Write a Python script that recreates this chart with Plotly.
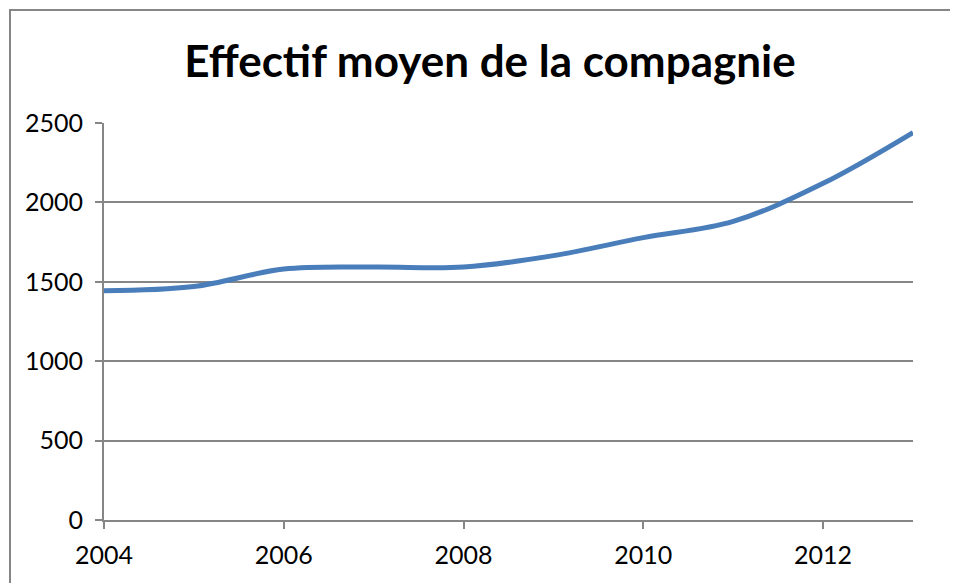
import plotly.graph_objects as go

years = [2004, 2005, 2006, 2007, 2008, 2009, 2010, 2011, 2012, 2013]
effectif = [1443, 1470, 1580, 1593, 1593, 1665, 1778, 1880, 2120, 2440]
x_ticks = [2004, 2006, 2008, 2010, 2012]
y_ticks = [0, 500, 1000, 1500, 2000, 2500]
title_text = "Effectif moyen de la compagnie"

OFF = 8  # page body margin
W, H = 958, 583
L, T = 104 - OFF, 123 - OFF
pw, ph = 809, 397
R, B = W - L - pw, H - T - ph

fig = go.Figure()
fig.add_trace(go.Scatter(
    x=years, y=effectif, mode="lines",
    line=dict(color="#4a7ebb", width=5, shape="spline", smoothing=1.0),
    hoverinfo="x+y", showlegend=False,
))

grey = "#868686"
font = "Lato, Open Sans, sans-serif"
fig.update_layout(
    width=W, height=H,
    margin=dict(l=L, r=R, t=T, b=B),
    paper_bgcolor="white", plot_bgcolor="white",
    font=dict(family=font, color="black", size=25),
    title=dict(text="<b>" + title_text + "</b>", x=(490 - OFF) / W, xanchor="center",
               y=1 - (62 - OFF) / H, yanchor="middle", xref="container", yref="container",
               font=dict(family=font, size=44, color="black")),
    xaxis=dict(range=[2004, 2013], tickvals=x_ticks, showgrid=False,
               showline=True, linecolor=grey, linewidth=2, ticks="outside",
               tickcolor=grey, ticklen=7, tickwidth=2, zeroline=False,
               ticklabelstandoff=5, tickfont=dict(size=25)),
    yaxis=dict(range=[0, 2500], tickvals=y_ticks, showgrid=True, gridcolor=grey,
               gridwidth=1.5, showline=True, linecolor=grey, linewidth=2,
               ticks="outside", tickcolor=grey, ticklen=7, tickwidth=2,
               zeroline=False, ticklabelstandoff=7, tickfont=dict(size=25)),
)

# chart-area border (left and top edges visible)
fig.add_shape(type="rect", xref="paper", yref="paper",
              x0=(10 - OFF - L) / pw, x1=(W + 20 - L) / pw,
              y0=-(B + 30) / ph, y1=(H - (10 - OFF) - B) / ph,
              line=dict(color=grey, width=2), fillcolor="rgba(0,0,0,0)", layer="below")

fig.write_html("out.html")
